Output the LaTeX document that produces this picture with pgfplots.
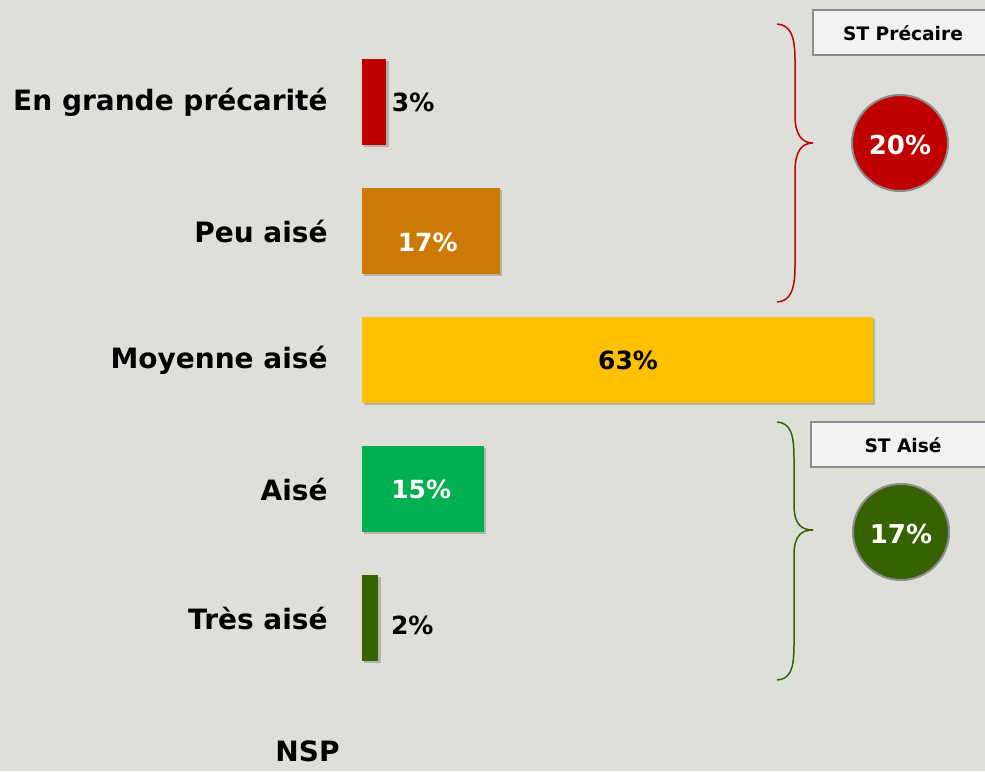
\documentclass[border=0pt]{standalone}
\usepackage{fontspec}
\setmainfont{DejaVu Sans}
\usepackage{pgfplots}
\pgfplotsset{compat=1.18}
\usetikzlibrary{shadows}
\definecolor{bg}{HTML}{DFDFDA}
\definecolor{cred}{HTML}{C00000}
\definecolor{corange}{HTML}{CC7A04}
\definecolor{cyellow}{HTML}{FFC000}
\definecolor{cgreen}{HTML}{00B050}
\definecolor{cdgreen}{HTML}{366300}
\definecolor{cbrd}{HTML}{8C8C8C}
\begin{document}
\begin{tikzpicture}
\fill[bg] (0,0) rectangle (492.5pt,-385.5pt);
\begin{axis}[
  at={(181pt,-18.75pt)}, anchor=north west,
  scale only axis, width=255.5pt, height=367.65pt,
  xmin=0, xmax=63, ymin=-0.5, ymax=5.2, y dir=reverse,
  xbar, bar width=43pt, bar shift=0pt,
  axis line style={draw=none}, xtick=\empty,
  ytick={0,1,2,3,4,5.03},
  yticklabels={En grande précarité,Peu aisé,Moyenne aisé,Aisé,Très aisé,NSP\kern-6pt},
  major tick length=0pt,
  yticklabel style={font=\bfseries\fontsize{14}{16}\selectfont, anchor=east, inner sep=0pt, xshift=-17pt},
  clip=false,
  every axis plot/.append style={draw=none, drop shadow={shadow xshift=1.2pt, shadow yshift=-1.2pt, opacity=0.2, fill=black}},
]
\addplot[fill=cred] coordinates {(3,0)};
\addplot[fill=corange] coordinates {(17,1)};
\addplot[fill=cyellow] coordinates {(63,2)};
\addplot[fill=cgreen] coordinates {(15,3)};
\addplot[fill=cdgreen] coordinates {(2,4)};
\begin{scope}[every node/.style={font=\bfseries\fontsize{12.5}{14}\selectfont}]
\node[text=black] at (axis cs:6.3,0) {3\%};
\node[text=white] at (axis cs:8.1,1.09) {17\%};
\node[text=black] at (axis cs:32.8,2) {63\%};
\node[text=white] at (axis cs:7.3,3.0) {15\%};
\node[text=black] at (axis cs:6.2,4.06) {2\%};
\end{scope}
\end{axis}
\begin{scope}[x=0.5pt,y=-0.5pt]
\draw[cred, line width=0.75pt] (777,24) .. controls (790,25) and (795,35) .. (795,60) -- (795,115) .. controls (795,135) and (802,143) .. (813,143) .. controls (802,143) and (795,151) .. (795,171) -- (795,266) .. controls (795,291) and (790,301) .. (777,302);
\draw[cdgreen, line width=0.75pt] (777,422) .. controls (790,423) and (794,433) .. (794,458) -- (794,505) .. controls (794,525) and (802,530) .. (813,530) .. controls (802,530) and (794,535) .. (794,555) -- (794,645) .. controls (794,670) and (790,679) .. (777,680);
\filldraw[fill=black!5, draw=cbrd, line width=0.8pt] (813,10) rectangle (990,55);
\node[font=\bfseries\fontsize{9.3}{11}\selectfont] at (903,33) {ST Précaire};
\filldraw[fill=black!5, draw=cbrd, line width=0.8pt] (811,422) rectangle (990,467);
\node[font=\bfseries\fontsize{9.3}{11}\selectfont] at (903,445) {ST Aisé};
\filldraw[fill=cred, draw=cbrd, line width=1pt] (900,143) circle[radius=24pt];
\node[text=white, font=\bfseries\fontsize{13}{15}\selectfont] at (900,145) {20\%};
\filldraw[fill=cdgreen, draw=cbrd, line width=1pt] (901,532) circle[radius=24pt];
\node[text=white, font=\bfseries\fontsize{13}{15}\selectfont] at (901,534) {17\%};
\end{scope}
\pgfresetboundingbox
\useasboundingbox (0,0) rectangle (492.5pt,-385.5pt);
\end{tikzpicture}
\end{document}
